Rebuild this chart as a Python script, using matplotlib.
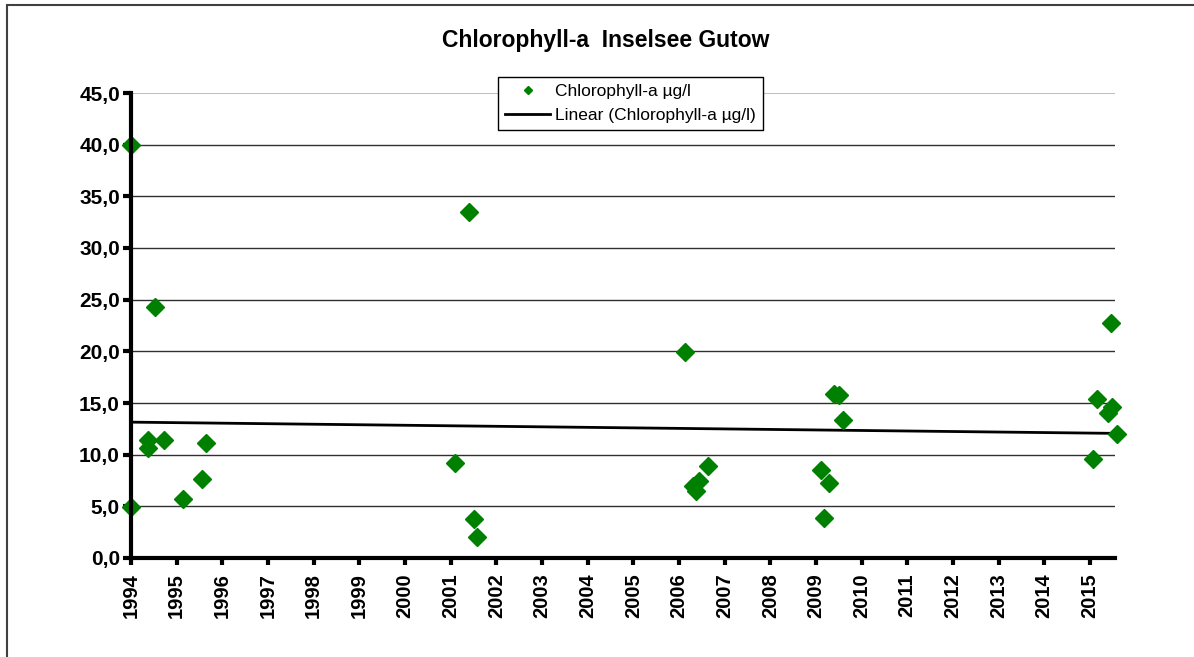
import numpy as np
import matplotlib
matplotlib.use("Agg")
from matplotlib import pyplot as plt
from matplotlib.ticker import FuncFormatter, MultipleLocator
from matplotlib.patches import Rectangle

plt.rcParams['font.family'] = ['Liberation Sans', 'DejaVu Sans']

# sampling dates (decimal years) and chlorophyll-a values
dates = [1994.00, 1994.00, 1994.37, 1994.38, 1994.53, 1994.72, 1995.14, 1995.55, 1995.64,
         2001.09, 2001.40, 2001.51, 2001.58,
         2006.13, 2006.30, 2006.37, 2006.45, 2006.63,
         2009.11, 2009.17, 2009.28, 2009.40, 2009.50, 2009.59,
         2015.06, 2015.15, 2015.40, 2015.46, 2015.48, 2015.59]
chl = [40.0, 4.9, 11.4, 10.6, 24.3, 11.4, 5.7, 7.6, 11.1,
       9.2, 33.5, 3.8, 2.0,
       19.9, 7.0, 6.5, 7.5, 8.9,
       8.5, 3.9, 7.3, 15.9, 15.8, 13.4,
       9.6, 15.4, 14.0, 22.7, 14.6, 12.0]
years = list(range(1994, 2016))

title = 'Chlorophyll-a  Inselsee Gutow'
series_label = 'Chlorophyll-a µg/l'
trend_label = 'Linear (Chlorophyll-a µg/l)'

W, H = 1194, 657
fig = plt.figure(figsize=(W / 100, H / 100), dpi=100)
ax = fig.add_axes([131 / W, 1 - 558 / H, (1115 - 131) / W, (558 - 93) / H])

# outer chart frame
fig.patches.append(Rectangle((7 / W, -0.1), 1.2, 1 - 5 / H + 0.1, transform=fig.transFigure,
                             fill=False, edgecolor='#404040', linewidth=1.5))

x0, x1 = 1994, 2015.55
ax.set_xlim(x0, x1)
ax.set_ylim(0, 45)

# gridlines
for v in np.arange(5, 45, 5):
    ax.axhline(v, color='#303030', linewidth=1, zorder=1)
ax.axhline(45, color='#c0c0c0', linewidth=1.5, zorder=1)

# trend line from linear fit
k, d = np.polyfit(dates, chl, 1)
tx = np.array([x0, x1])
ax.plot(tx, k * tx + d, color='black', linewidth=2, zorder=2, label=trend_label)

ax.plot(dates, chl, linestyle='none', marker='D', markersize=9.5, color='#008000',
        markeredgecolor='#008000', clip_on=False, zorder=3, label=series_label)

for s in ['top', 'right']:
    ax.spines[s].set_visible(False)
for s in ['left', 'bottom']:
    ax.spines[s].set_linewidth(3)
    ax.spines[s].set_zorder(4)

ax.yaxis.set_major_locator(MultipleLocator(5))
ax.yaxis.set_major_formatter(FuncFormatter(lambda v, p: f"{v:.1f}".replace('.', ',')))
ax.set_xticks(years)
ax.set_xticklabels([str(y) for y in years], rotation=90, fontweight='bold', fontsize=14.5)
ax.tick_params(axis='y', direction='out', length=6, width=3, labelsize=15, pad=2)
ax.tick_params(axis='x', direction='out', length=5, width=3, pad=6)
for t in ax.get_yticklabels():
    t.set_fontweight('bold')

fig.text(606 / W, 1 - 40 / H, title, ha='center', va='center', fontsize=16.5, fontweight='bold')

handles, labels = ax.get_legend_handles_labels()
leg = fig.legend(handles[::-1], labels[::-1], loc='upper left',
                 bbox_to_anchor=(498 / W, 1 - 77 / H), fontsize=12.5, frameon=True,
                 fancybox=False, edgecolor='black', framealpha=1, markerscale=0.45,
                 handlelength=2.6, handletextpad=0.3, borderpad=0.4, labelspacing=0.5,
                 borderaxespad=0)
leg.get_frame().set_linewidth(1)

fig.savefig('out.png', dpi=100)
